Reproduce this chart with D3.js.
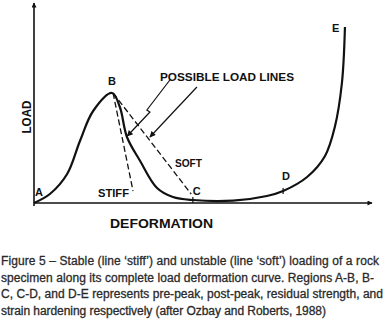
<!DOCTYPE html>
<html>
<head>
<meta charset="utf-8">
<script src="https://cdn.jsdelivr.net/npm/d3@7"></script>
<style>
  body { margin: 0; background: #fff; }
  svg { display: block; }
  .lbl { font-family: "Liberation Sans", Arial, sans-serif; font-weight: bold; fill: #111; }
  .cap { font-family: "Liberation Sans", Arial, sans-serif; fill: #2a2a2a; stroke: #2a2a2a; stroke-width: 0.3; font-size: 12px; }
</style>
</head>
<body>
<svg id="chart"></svg>
<script>
// load-deformation curve (deformation %, load %)
const deformation = [0, 4.7, 9.8, 13.6, 17.5, 23.1, 25.4, 27.5, 31.4, 36.4, 41.1, 47, 58.9, 68.9, 73.7, 80.8, 86.1, 89, 91.1, 92];
const load = [0, 4.5, 14.5, 31, 46, 55, 48, 33, 21, 7.5, 3, 1.5, 1.2, 3.5, 6, 13, 23.5, 38, 60, 88];

// region points
const pointNames = ['A', 'B', 'C', 'D', 'E'];
const pointX = [0, 23.1, 47, 73.7, 92];
const pointY = [0, 55, 1.5, 6, 88];

// load lines from B
const loadLineNames = ['STIFF', 'SOFT'];
const loadLineEndX = [29.3, 46.5];
const loadLineEndY = [6, 4.5];

const captionLines = [
  'Figure 5 \u2013 Stable (line \u2018stiff\u2019) and unstable (line \u2018soft\u2019) loading of a rock',
  'specimen along its complete load deformation curve. Regions A-B, B-',
  'C, C-D, and D-E represents pre-peak, post-peak, residual strength, and',
  'strain hardening respectively (after Ozbay and Roberts, 1988)'
];

const W = 385, H = 321;
const margin = { top: 3, right: 13, bottom: 118, left: 34 };

const svg = d3.select('#chart').attr('width', W).attr('height', H);

const x = d3.scaleLinear().domain([0, 100]).range([margin.left, W - margin.right]);
const y = d3.scaleLinear().domain([0, 100]).range([H - margin.bottom, margin.top]);

// arrow markers
const defs = svg.append('defs');
defs.append('marker')
  .attr('id', 'ax').attr('viewBox', '0 0 10 10')
  .attr('refX', 9).attr('refY', 5)
  .attr('markerWidth', 7).attr('markerHeight', 5)
  .attr('markerUnits', 'userSpaceOnUse')
  .attr('orient', 'auto')
  .append('path').attr('d', 'M0,0L10,5L0,10z').attr('fill', '#111');
defs.append('marker')
  .attr('id', 'ar').attr('viewBox', '0 0 10 10')
  .attr('refX', 9).attr('refY', 5)
  .attr('markerWidth', 8).attr('markerHeight', 6)
  .attr('markerUnits', 'userSpaceOnUse')
  .attr('orient', 'auto')
  .append('path').attr('d', 'M0,0L10,5L0,10z').attr('fill', '#111');

// axes
svg.append('line')
  .attr('x1', x(0)).attr('y1', y(0)).attr('x2', x(100)).attr('y2', y(0))
  .attr('stroke', '#111').attr('stroke-width', 1.6).attr('marker-end', 'url(#ax)');
svg.append('line')
  .attr('x1', x(0)).attr('y1', y(0) + 3).attr('x2', x(0)).attr('y2', y(100))
  .attr('stroke', '#111').attr('stroke-width', 1.6).attr('marker-end', 'url(#ax)');

// main curve
const pts = deformation.map((d, i) => [d, load[i]]);
const line = d3.line().x(d => x(d[0])).y(d => y(d[1])).curve(d3.curveCatmullRom.alpha(0.5));
svg.append('path')
  .attr('d', line(pts))
  .attr('fill', 'none').attr('stroke', '#111').attr('stroke-width', 2.2);

// dashed load lines
loadLineNames.forEach((n, i) => {
  svg.append('line')
    .attr('x1', x(pointX[1]) + 1).attr('y1', y(pointY[1]))
    .attr('x2', x(loadLineEndX[i])).attr('y2', y(loadLineEndY[i]))
    .attr('stroke', '#111').attr('stroke-width', 1.3)
    .attr('stroke-dasharray', '6,3');
});

// ticks at C and D
[2, 3].forEach(i => {
  svg.append('line')
    .attr('x1', x(pointX[i])).attr('x2', x(pointX[i]))
    .attr('y1', y(pointY[i]) - 3).attr('y2', y(pointY[i]) + 3)
    .attr('stroke', '#111').attr('stroke-width', 1.2);
});

// leader arrows for "possible load lines"
const leader1 = [[40.2, 61.5], [33.4, 46.5], [34.3, 45.5], [27.6, 33.5]];
const leader2 = [[48.2, 58], [34.3, 33]];
svg.append('path')
  .attr('d', d3.line().x(d => x(d[0])).y(d => y(d[1]))(leader1))
  .attr('fill', 'none').attr('stroke', '#111').attr('stroke-width', 1.2)
  .attr('marker-end', 'url(#ar)');
svg.append('path')
  .attr('d', d3.line().x(d => x(d[0])).y(d => y(d[1]))(leader2))
  .attr('fill', 'none').attr('stroke', '#111').attr('stroke-width', 1.2)
  .attr('marker-end', 'url(#ar)');

// point labels
const labelDx = [1, -4, 0, -1, -13];
const labelDy = [-7, -8, -5, -11, 5];
pointNames.forEach((n, i) => {
  svg.append('text').attr('class', 'lbl')
    .attr('x', x(pointX[i]) + labelDx[i]).attr('y', y(pointY[i]) + labelDy[i])
    .attr('font-size', 11).text(n);
});

svg.append('text').attr('class', 'lbl')
  .attr('x', 160).attr('y', 81).attr('font-size', 11)
  .attr('textLength', 134).attr('lengthAdjust', 'spacingAndGlyphs')
  .text('POSSIBLE LOAD LINES');
svg.append('text').attr('class', 'lbl')
  .attr('x', 175).attr('y', 167).attr('font-size', 11)
  .attr('textLength', 27).attr('lengthAdjust', 'spacingAndGlyphs')
  .text('SOFT');
svg.append('text').attr('class', 'lbl')
  .attr('x', 98).attr('y', 197).attr('font-size', 11)
  .attr('textLength', 31).attr('lengthAdjust', 'spacingAndGlyphs')
  .text('STIFF');

// axis titles
svg.append('text').attr('class', 'lbl')
  .attr('transform', 'translate(31,117) rotate(-90)')
  .attr('text-anchor', 'middle').attr('font-size', 13)
  .attr('textLength', 33).attr('lengthAdjust', 'spacingAndGlyphs')
  .text('LOAD');
svg.append('text').attr('class', 'lbl')
  .attr('x', 110).attr('y', 228).attr('font-size', 13)
  .attr('textLength', 103).attr('lengthAdjust', 'spacingAndGlyphs')
  .text('DEFORMATION');

// caption
const capW = [378, 373, 382, 325];
captionLines.forEach((t, i) => {
  svg.append('text').attr('class', 'cap')
    .attr('x', 1).attr('y', 265 + i * 16.7)
    .attr('textLength', capW[i]).attr('lengthAdjust', 'spacing')
    .text(t);
});
</script>
</body>
</html>
